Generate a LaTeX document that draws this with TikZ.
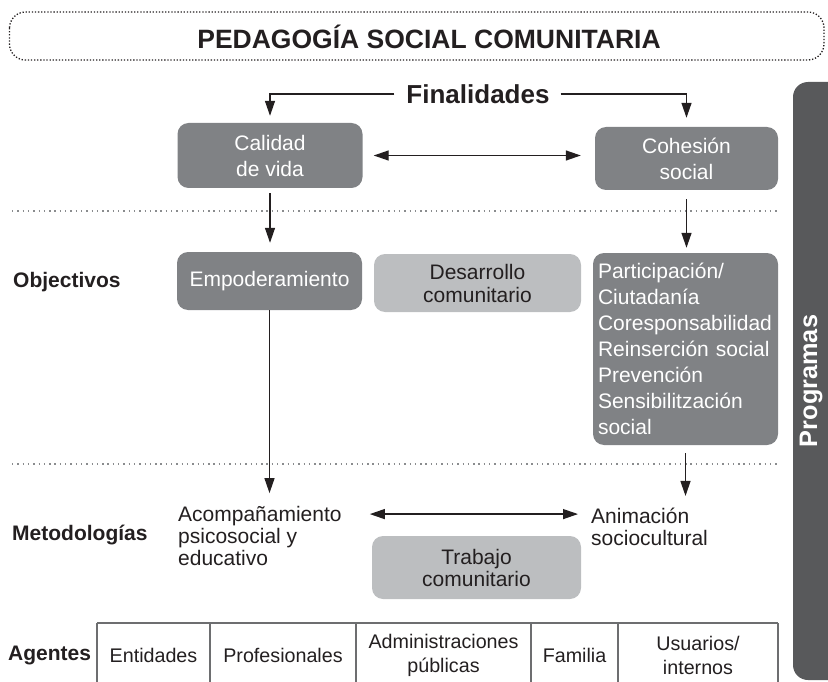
\documentclass[tikz,border=0pt]{standalone}
\usepackage{fontspec}
\setmainfont{Liberation Sans}
\usepackage{tikz}
\usetikzlibrary{calc,arrows.meta}
\definecolor{ink}{HTML}{231F20}
\definecolor{boxdark}{HTML}{808285}
\definecolor{boxlight}{HTML}{BCBEC0}
\definecolor{progfill}{HTML}{58595B}
\definecolor{sepgray}{HTML}{8A8C8E}
\definecolor{tabline}{HTML}{6D6E70}
\tikzset{
  titleframe/.style={draw=ink, line width=1.3pt, dash pattern=on 1.3pt off 1.8pt, rounded corners=16pt},
  titletxt/.style={inner sep=0pt, text=ink, font=\bfseries\fontsize{26.5}{28}\selectfont},
  darkbox/.style={fill=boxdark, rounded corners=11pt, text=white, align=center, inner sep=0pt,
    font=\fontsize{21}{26}\selectfont},
  lightbox/.style={fill=boxlight, rounded corners=11pt, text=ink, align=center, inner sep=0pt,
    font=\fontsize{21}{23}\selectfont},
  sectlab/.style={anchor=west, inner sep=0pt, text=ink, font=\bfseries\fontsize{21}{24}\selectfont},
  plaintxt/.style={anchor=west, align=left, inner sep=0pt, text=ink, font=\fontsize{21}{22}\selectfont},
  cell/.style={align=center, inner sep=0pt, text=ink, font=\fontsize{19.7}{24}\selectfont},
  sep/.style={draw=sepgray, line width=1.4pt, dash pattern=on 1.4pt off 3.9pt},
  tab/.style={draw=tabline, line width=1.3pt},
  arr/.style={draw=ink, line width=1.3pt, -{Triangle[length=15pt,width=10pt]}},
  arrb/.style={draw=ink, line width=1.3pt, {Triangle[length=15pt,width=10pt]}-{Triangle[length=15pt,width=10pt]}},
  progbar/.style={fill=progfill, rounded corners=15pt},
  progtxt/.style={text=white, inner sep=0pt, font=\bfseries\fontsize{25.3}{27}\selectfont}
}
\begin{document}
\begin{tikzpicture}[x=1pt, y=-1pt]
  \useasboundingbox (0,0) rectangle (828,682);

  \begin{scope}
    \clip (0,0) rectangle (828,682);
    \fill[progbar] (793,82) rectangle (850,680);
  \end{scope}
  \node[progtxt, rotate=90] (prog) at (811,381) {Programas};

  \draw[titleframe] (9.5,12) rectangle (824,60);
  \node[titletxt] (title) at (429,37) {PEDAGOGÍA SOCIAL COMUNITARIA};
  \node[inner sep=0pt, text=ink, font=\bfseries\fontsize{26}{28}\selectfont] (fin) at (478,94) {Finalidades};

  \node[darkbox, minimum width=185pt, minimum height=65pt] (cal) at (270,155.5) {Calidad\\de vida};
  \node[darkbox, minimum width=183pt, minimum height=63pt] (coh) at (686.5,158.5) {Cohesión\\social};

  \draw[sep] (12,211) -- (779,211);
  \draw[sep] (12,464) -- (779,464);

  \node[sectlab] (obj) at (13,282) {Objectivos};
  \node[darkbox, minimum width=185pt, minimum height=58pt] (emp) at (269.5,281) {Empoderamiento};
  \node[lightbox, minimum width=207pt, minimum height=58pt] (des) at (477.5,283) {Desarrollo\\comunitario};
  \node[darkbox, align=left, text width=175pt, inner xsep=5pt, minimum height=192pt] (part) at (685.5,349)
    {Participación/\\Ciutadanía\\Coresponsabilidad\\Reinserción social\\Prevención\\Sensibilitzación\\social};

  \node[sectlab] (met) at (12,535) {Metodologías};
  \node[plaintxt] (acomp) at (178,536) {Acompañamiento\\psicosocial y\\educativo};
  \node[plaintxt] (anim) at (591,527) {Animación\\sociocultural};
  \node[lightbox, font=\fontsize{21}{22}\selectfont, minimum width=209pt, minimum height=63pt] (trab) at (476.5,567.5) {Trabajo\\comunitario};

  \node[sectlab] (age) at (8,655) {Agentes};
  \node[cell] (ent) at (153.5,655) {Entidades};
  \node[cell] (pro) at (283,655) {Profesionales};
  \node[cell] (adm) at (443.5,655) {Administraciones\\públicas};
  \node[cell] (fam) at (574.5,655) {Familia};
  \node[cell] (usu) at (698,655) {Usuarios/\\internos};
  \draw[tab] (97,623) -- (778,623);
  \foreach \xx in {97,210,356,531,618,778}
    \draw[tab] (\xx,623) -- (\xx,682);

  \draw[arr, shorten <=12pt, shorten >=7pt] (fin.west) -| (cal.north);
  \draw[arr, shorten <=11pt, shorten >=9pt] (fin.east) -| (coh.north);
  \draw[arrb, shorten <=11pt, shorten >=14pt] (cal.east) -- (cal.east -| coh.west);
  \draw[arr, shorten <=5pt, shorten >=9pt] (cal.south) -- (cal.south |- emp.north);
  \draw[arr, shorten <=9pt, shorten >=5pt] (coh.south) -- (coh.south |- part.north);
  \draw[arr, shorten >=13pt] (emp.south) -- (emp.south |- acomp.north);
  \draw[arr, shorten <=8pt, shorten >=12pt] (part.south) -- (part.south |- anim.north);
  \coordinate (aa) at ([xshift=28pt,yshift=-8pt]acomp.north east);
  \coordinate (an) at ([xshift=-13pt]anim.west);
  \draw[arrb] (aa) -- (aa -| an);
\end{tikzpicture}
\end{document}
